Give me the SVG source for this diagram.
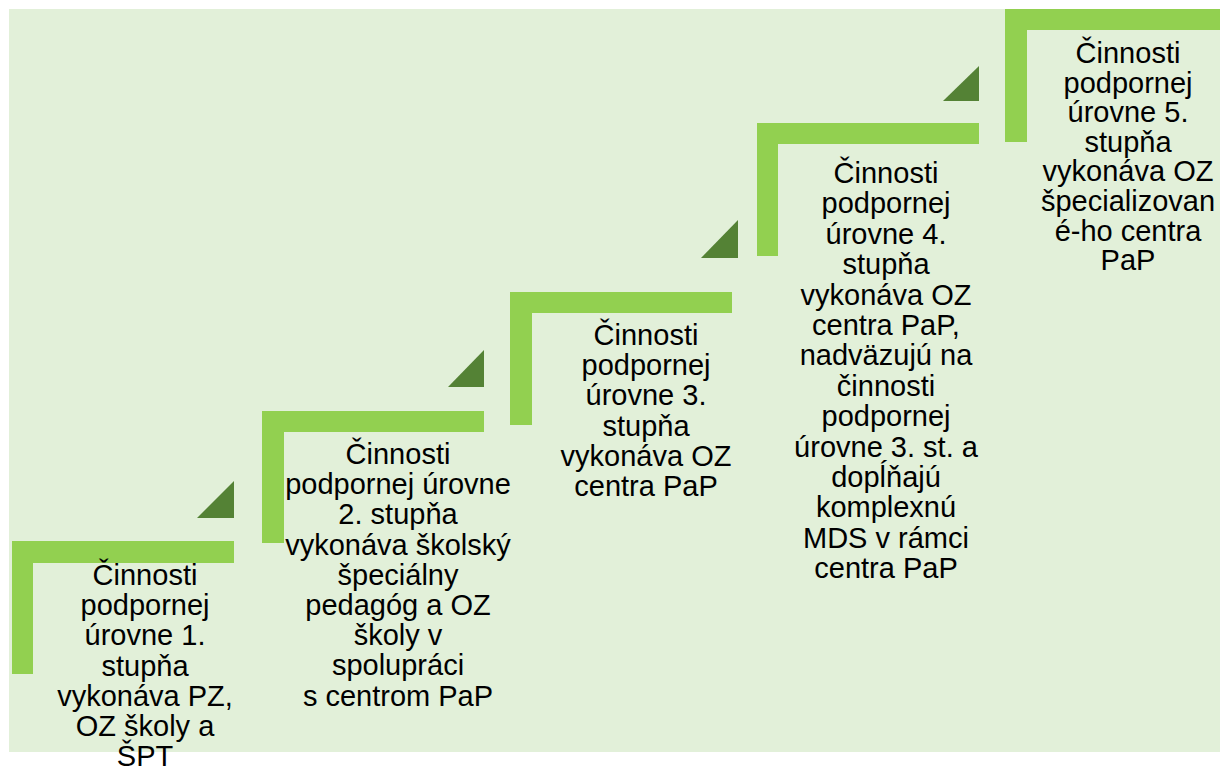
<svg xmlns="http://www.w3.org/2000/svg" width="1220" height="766" viewBox="0 0 1220 766">
<style>
.bar{fill:#92D050}
.tri{fill:#548235}
.t{font-family:"Liberation Sans",Arial,sans-serif;font-size:29px;fill:#000;text-anchor:middle}
</style>
<rect x="0" y="0" width="1220" height="766" fill="#ffffff"/>
<rect x="9" y="9" width="1211" height="743" fill="#E2F0D9"/>
<g id="step1">
<path class="bar" d="M12,541 H234 V563 H33 V674 H12 Z"/>
<polygon class="tri" points="234,481 234,518 197,518"/>
<text class="t" x="145" y="585"><tspan x="145">Činnosti</tspan><tspan x="145" dy="30.2">podpornej</tspan><tspan x="145" dy="30.2">úrovne 1.</tspan><tspan x="145" dy="30.2">stupňa</tspan><tspan x="145" dy="30.2">vykonáva PZ,</tspan><tspan x="145" dy="30.2">OZ školy a</tspan><tspan x="145" dy="30.2">ŠPT</tspan></text>
</g>
<g id="step2">
<path class="bar" d="M262,411 H484 V432 H284 V543 H262 Z"/>
<polygon class="tri" points="484,350 484,387 448,387"/>
<text class="t" x="398" y="464"><tspan x="398">Činnosti</tspan><tspan x="398" dy="30.2">podpornej úrovne</tspan><tspan x="398" dy="30.2">2. stupňa</tspan><tspan x="398" dy="30.2">vykonáva školský</tspan><tspan x="398" dy="30.2">špeciálny</tspan><tspan x="398" dy="30.2">pedagóg a OZ</tspan><tspan x="398" dy="30.2">školy v</tspan><tspan x="398" dy="30.2">spolupráci</tspan><tspan x="398" dy="30.2">s centrom PaP</tspan></text>
</g>
<g id="step3">
<path class="bar" d="M510,292 H732 V313 H532 V425 H510 Z"/>
<polygon class="tri" points="738,220 738,258 701,258"/>
<text class="t" x="646" y="345"><tspan x="646">Činnosti</tspan><tspan x="646" dy="30.2">podpornej</tspan><tspan x="646" dy="30.2">úrovne 3.</tspan><tspan x="646" dy="30.2">stupňa</tspan><tspan x="646" dy="30.2">vykonáva OZ</tspan><tspan x="646" dy="30.2">centra PaP</tspan></text>
</g>
<g id="step4">
<path class="bar" d="M757,123 H979 V144 H778 V256 H757 Z"/>
<polygon class="tri" points="979,66 979,101 943,101"/>
<text class="t" x="886" y="183"><tspan x="886">Činnosti</tspan><tspan x="886" dy="30.4">podpornej</tspan><tspan x="886" dy="30.4">úrovne 4.</tspan><tspan x="886" dy="30.4">stupňa</tspan><tspan x="886" dy="30.4">vykonáva OZ</tspan><tspan x="886" dy="30.4">centra PaP,</tspan><tspan x="886" dy="30.4">nadväzujú na</tspan><tspan x="886" dy="30.4">činnosti</tspan><tspan x="886" dy="30.4">podpornej</tspan><tspan x="886" dy="30.4">úrovne 3. st. a</tspan><tspan x="886" dy="30.4">dopĺňajú</tspan><tspan x="886" dy="30.4">komplexnú</tspan><tspan x="886" dy="30.4">MDS v rámci</tspan><tspan x="886" dy="30.4">centra PaP</tspan></text>
</g>
<g id="step5">
<path class="bar" d="M1005,9 H1220 V30 H1027 V142 H1005 Z"/>
<text class="t" x="1128" y="63"><tspan x="1128">Činnosti</tspan><tspan x="1128" dy="29.6">podpornej</tspan><tspan x="1128" dy="29.6">úrovne 5.</tspan><tspan x="1128" dy="29.6">stupňa</tspan><tspan x="1128" dy="29.6">vykonáva OZ</tspan><tspan x="1128" dy="29.6">špecializovan</tspan><tspan x="1128" dy="29.6">é-ho centra</tspan><tspan x="1128" dy="29.6">PaP</tspan></text>
</g>
<g id="connectors"/>
</svg>
